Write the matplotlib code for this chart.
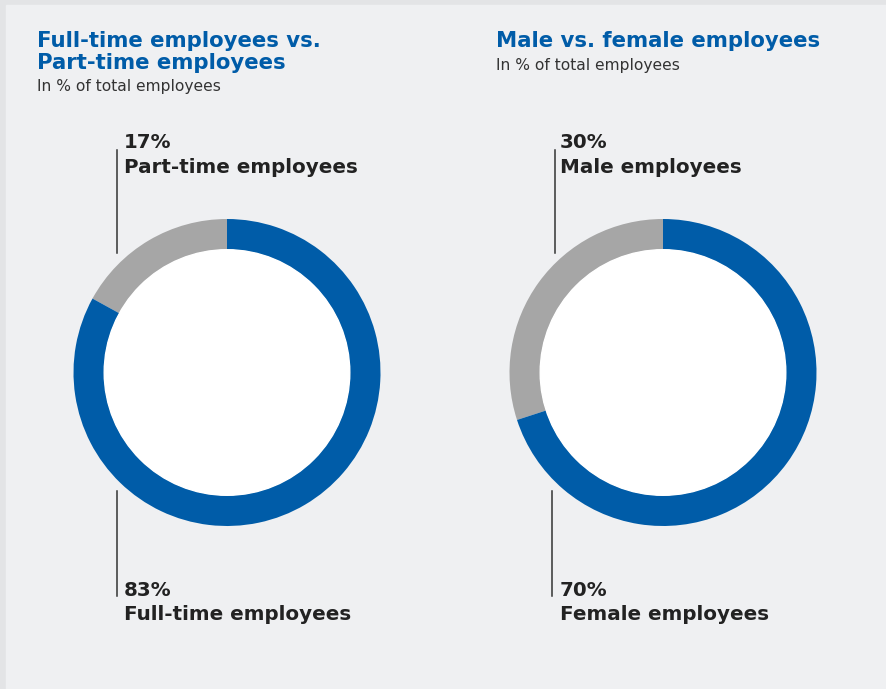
import matplotlib.pyplot as plt
from matplotlib.patches import Rectangle, Circle

# data
title_left = ["Full-time employees vs.", "Part-time employees"]
title_right = "Male vs. female employees"
subtitle = "In % of total employees"
values_left = [17, 83]
labels_left = ["Part-time employees", "Full-time employees"]
values_right = [30, 70]
labels_right = ["Male employees", "Female employees"]

BLUE = "#005ca8"
GREY = "#a6a6a6"
TEXT = "#222222"
FONT = "DejaVu Sans"

W, H = 887, 689
fig = plt.figure(figsize=(W / 100, H / 100), dpi=100, facecolor="#e3e4e6")

# overlay axes in pixel coordinates for text + leader lines
ov = fig.add_axes([0, 0, 1, 1])
ov.set_xlim(0, W)
ov.set_ylim(H, 0)
ov.axis("off")
ov.add_patch(Rectangle((6, 5), W, H, color="#eff0f2", zorder=0))


def donut(cx, cy, r, values):
    ax = fig.add_axes([(cx - r) / W, 1 - (cy + r) / H, 2 * r / W, 2 * r / H])
    ax.pie(values, colors=[GREY, BLUE], startangle=90, counterclock=True,
           wedgeprops=dict(width=0.2, linewidth=0), radius=1)
    ax.add_patch(Circle((0, 0), 0.8, color="white", zorder=3))
    ax.set_xlim(-1, 1)
    ax.set_ylim(-1, 1)
    ax.axis("off")


donut(227, 372.5, 153.5, values_left)
donut(663, 372.5, 153.5, values_right)

# titles
tkw = dict(color=BLUE, fontsize=15.3, fontweight="heavy", family=FONT, va="baseline")
skw = dict(color="#333333", fontsize=11.2, family=FONT, va="baseline")
ov.text(37, 47, title_left[0], **tkw)
ov.text(37, 69, title_left[1], **tkw)
ov.text(37, 91, subtitle, **skw)
ov.text(496, 47, title_right, **tkw)
ov.text(496, 70, subtitle, **skw)


def callout(x_line, x_text, top, pct, label):
    if top:
        ov.plot([x_line, x_line], [150, 253], color="#333333", lw=1.1)
        y1, y2 = 148, 173
    else:
        ov.plot([x_line, x_line], [491, 596], color="#333333", lw=1.1)
        y1, y2 = 596, 620
    ov.text(x_text, y1, f"{pct}%", color=TEXT, fontsize=14.3, fontweight="bold",
            family=FONT, va="baseline")
    ov.text(x_text, y2, label, color=TEXT, fontsize=14.3, fontweight="bold",
            family=FONT, va="baseline")


callout(117, 124, True, values_left[0], labels_left[0])
callout(117, 124, False, values_left[1], labels_left[1])
callout(555, 560, True, values_right[0], labels_right[0])
callout(552, 560, False, values_right[1], labels_right[1])

fig.savefig("out.png", dpi=100, facecolor=fig.get_facecolor())
